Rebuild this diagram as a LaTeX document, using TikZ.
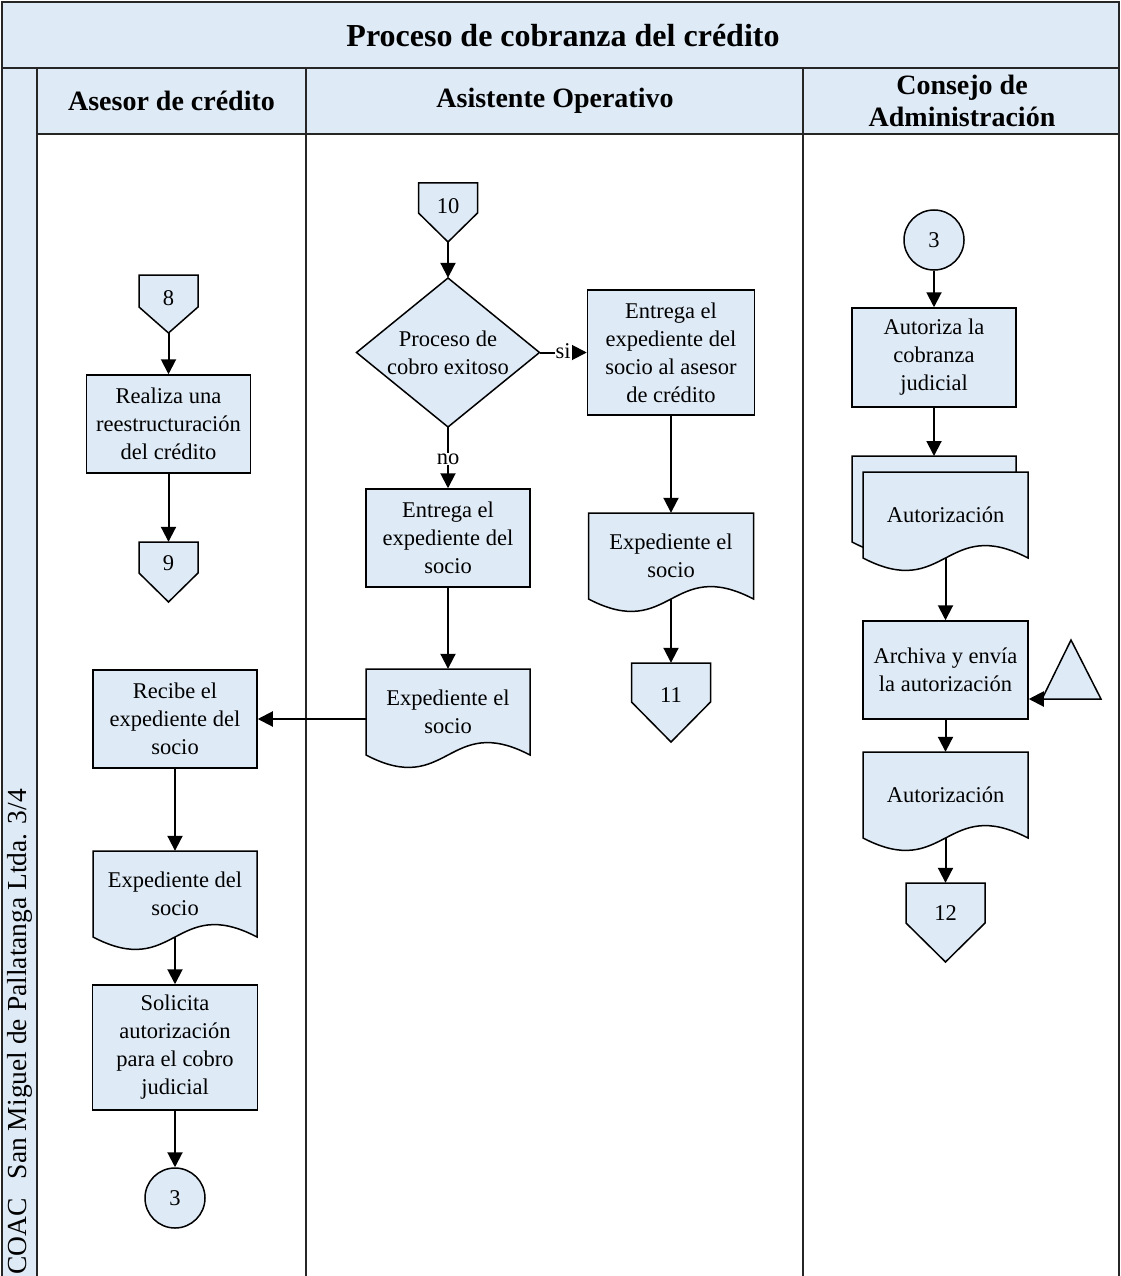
\documentclass[tikz,border=0pt]{standalone}
\usepackage{fontspec}
\setmainfont{Liberation Serif}
\usetikzlibrary{arrows.meta}
\definecolor{lanefill}{RGB}{222,234,246}
\definecolor{shapefill}{RGB}{222,234,246}
\tikzset{
  shp/.style={fill=shapefill, draw=black, line width=1.5pt, line join=miter},
  txt/.style={align=center, font=\fontsize{22.5}{28}\selectfont, inner sep=0pt},
  procbox/.style={shp, txt, rectangle},
  arr/.style={line width=2pt, -{Triangle[length=15pt,width=15pt]}},
  lbl/.style={fill=white, inner sep=1pt, font=\fontsize{22.5}{28}\selectfont},
  laneline/.style={line width=2pt, draw=black!85},
  hdr/.style={align=center, font=\fontsize{28}{32}\selectfont\bfseries, inner sep=0pt},
}
\newcommand\docshape[4]{\path[shp] (#1,#3) -- (#2,#3) -- (#2,#4) .. controls ({(#1+#2)/2},{#4-43}) and ({(#1+#2)/2},{#4+43}) .. (#1,#4) -- cycle;}
\newcommand\offpage[5]{\path[shp] ({#1-#3},#2) -- ({#1+#3},#2) -- ({#1+#3},#4) -- (#1,#5) -- ({#1-#3},#4) -- cycle;}
\begin{document}
\begin{tikzpicture}[x=1pt,y=-1pt]
\useasboundingbox (0,0) rectangle (1120,1276);
\fill[white] (0,0) rectangle (1120,1276);
% pool and lanes
\fill[lanefill] (2,2) rectangle (1119,68);
\fill[lanefill] (37,68) rectangle (1119,134);
\fill[lanefill] (2,68) rectangle (37,1276);
\draw[laneline] (2,1277) -- (2,2) -- (1119,2) -- (1119,1277);
\draw[laneline] (2,68) -- (1119,68);
\draw[laneline] (37,134) -- (1119,134);
\draw[laneline] (37,68) -- (37,1277);
\draw[laneline] (306,68) -- (306,1277);
\draw[laneline] (803,68) -- (803,1277);
\node[font=\fontsize{32}{38}\selectfont\bfseries, inner sep=0pt] (title) at (563,36) {Proceso de cobranza del crédito};
\node[hdr] (h1) at (171.5,101) {Asesor de crédito};
\node[hdr] (h2) at (555,101) {Asistente Operativo};
\node[hdr] (h3) at (962,101) {Consejo de\\Administración};
\node[rotate=90, anchor=west, inner sep=0pt, font=\fontsize{27.5}{30}\selectfont] (org) at (20,1275) {COAC\hspace{0.45em} San Miguel de Pallatanga Ltda. 3/4};

% ---------- Lane 1: Asesor de credito ----------
\offpage{168.5}{275}{29.5}{307}{333}
\coordinate (c8tip) at (168.5,333);
\node[txt, minimum width=59, minimum height=46] (c8) at (168.5,298) {8};
\node[procbox, minimum width=164, minimum height=98] (b1) at (168.5,424) {Realiza una\\reestructuración\\del crédito};
\offpage{168.5}{542}{29.5}{573}{602}
\node[txt, minimum width=59, minimum height=42] (c9) at (168.5,563) {9};

\node[procbox, minimum width=164, minimum height=98] (b2) at (175,719) {Recibe el\\expediente del\\socio};
\docshape{93}{257}{851}{937}
\node[txt, minimum width=164, minimum height=86] (d1) at (175,894) {Expediente del\\socio};
\node[procbox, minimum width=165, minimum height=125] (b3) at (175,1047.5) {Solicita\\autorización\\para el cobro\\judicial};
\node[shp, txt, circle, minimum size=60] (o3a) at (175,1198) {3};

% ---------- Lane 2: Asistente Operativo ----------
\offpage{448}{183}{29.5}{213}{242}
\coordinate (c10tip) at (448,242);
\node[txt, minimum width=59, minimum height=46] (c10) at (448,206) {10};
\path[shp] (448,278) -- (539.5,352.5) -- (448,427) -- (356.5,352.5) -- cycle;
\node[txt, minimum width=183, minimum height=149] (dm) at (448,352.5) {Proceso de\\cobro exitoso};
\node[procbox, minimum width=167, minimum height=125] (b4) at (671,352.5) {Entrega el\\expediente del\\socio al asesor\\de crédito};
\docshape{588.5}{753.5}{513}{599}
\node[txt, minimum width=165, minimum height=86] (d2) at (671,556) {Expediente el\\socio};
\offpage{671}{663}{39.5}{702}{742}
\node[txt, minimum width=79, minimum height=64] (c11) at (671,695) {11};

\node[procbox, minimum width=164, minimum height=98] (b5) at (448,538) {Entrega el\\expediente del\\socio};
\docshape{366}{530}{669}{755}
\node[txt, minimum width=164, minimum height=86] (d3) at (448,712) {Expediente el\\socio};

% ---------- Lane 3: Consejo de Administracion ----------
\node[shp, txt, circle, minimum size=60] (o3b) at (934,240) {3};
\node[procbox, minimum width=164, minimum height=99] (b6) at (934,357.5) {Autoriza la\\cobranza\\judicial};
\docshape{852}{1016}{456}{542}
\coordinate (d4back) at (934,456);
\docshape{863}{1028}{472}{558}
\node[txt, minimum width=165, minimum height=86] (d4) at (945.5,515) {Autorización};
\node[procbox, minimum width=165, minimum height=98] (b7) at (945.5,670) {Archiva y envía\\la autorización};
\path[shp] (1071,640) -- (1101,699) -- (1042,699) -- cycle;
\coordinate (tri) at (1042,699);
\docshape{863}{1028}{752}{838}
\node[txt, minimum width=165, minimum height=86] (d5) at (945.5,795) {Autorización};
\offpage{945.5}{883}{39.5}{923}{962}
\node[txt, minimum width=79, minimum height=60] (c12) at (945.5,913) {12};

% ---------- connectors ----------
\draw[arr] (c8tip) -- (b1.north);
\draw[arr] (b1.south) -- (c9.north);
\draw[arr] (c10tip) -- (dm.north);
\draw[arr] (dm.east) -- (b4.west);
\node[lbl] (si) at (563,351) {si};
\draw[arr] (dm.south) -- (b5.north);
\node[lbl] (no) at (448,459) {no};
\draw[arr] (b4.south) -- (d2.north);
\draw[arr] (d2.south) -- (c11.north);
\draw[arr] (b5.south) -- (d3.north);
\draw[arr] (d3.west |- b2.east) -- (b2.east);
\draw[arr] (b2.south) -- (d1.north);
\draw[arr] (d1.south) -- (b3.north);
\draw[arr] (b3.south) -- (o3a.north);
\draw[arr] (o3b.south) -- (b6.north);
\draw[arr] (b6.south) -- (d4back);
\draw[arr] (d4.south) -- (b7.north);
\draw[arr] (tri) -- (tri -| b7.east);
\draw[arr] (b7.south) -- (d5.north);
\draw[arr] (d5.south) -- (c12.north);
\end{tikzpicture}
\end{document}
